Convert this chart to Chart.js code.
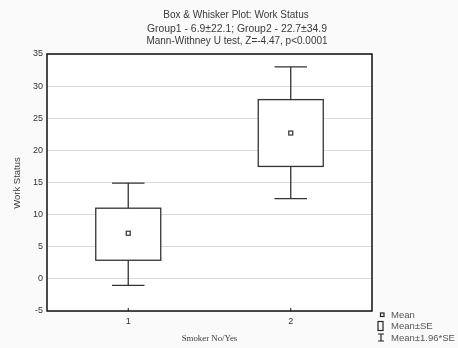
<!DOCTYPE html>
<html><head><meta charset="utf-8">
<script src="https://cdn.jsdelivr.net/npm/chart.js@4/dist/chart.umd.min.js"></script>
<style>html,body{margin:0;padding:0;background:#fafafa;}#c{display:block;}</style>
</head><body>
<canvas id="c" width="458" height="348"></canvas>
<script>
const categories = [1, 2];
const categoryLabels = ["1", "2"];
const means = [7.1, 22.7];
const seLow = [2.9, 17.5];
const seHigh = [11.0, 27.9];
const ciLow = [-1.0, 12.5];
const ciHigh = [14.9, 33.0];
const yTicks = [-5, 0, 5, 10, 15, 20, 25, 30, 35];
const titleLines = ["Box & Whisker Plot: Work Status", "Group1 - 6.9\u00b122.1; Group2 - 22.7\u00b134.9", "Mann-Withney U test, Z=-4.47, p<0.0001"];
const legendLabels = ["Mean", "Mean\u00b1SE", "Mean\u00b11.96*SE"];

const ink = '#333';
const sans = '"Liberation Sans", Arial, sans-serif';
const boxPlugin = {
  id: 'boxes',
  beforeDraw(chart) {
    const ctx = chart.ctx, a = chart.chartArea;
    ctx.save();
    ctx.fillStyle = '#fafafa';
    ctx.fillRect(0, 0, chart.width, chart.height);
    ctx.fillStyle = '#fff';
    ctx.fillRect(a.left, a.top, a.right - a.left, a.bottom - a.top);
    ctx.restore();
  },
  afterDatasetsDraw(chart) {
    const ctx = chart.ctx, x = chart.scales.x, y = chart.scales.y, a = chart.chartArea;
    ctx.save();
    ctx.strokeStyle = ink; ctx.lineWidth = 1.3;
    categories.forEach((c, i) => {
      const cx = x.getPixelForValue(c);
      const bw = (x.getPixelForValue(c + 0.2) - x.getPixelForValue(c - 0.2));
      const cw = bw / 2;
      const yt = y.getPixelForValue(seHigh[i]), yb = y.getPixelForValue(seLow[i]);
      const wt = y.getPixelForValue(ciHigh[i]), wb = y.getPixelForValue(ciLow[i]);
      ctx.fillStyle = '#fff';
      ctx.fillRect(cx - bw / 2, yt, bw, yb - yt);
      ctx.strokeRect(cx - bw / 2, yt, bw, yb - yt);
      ctx.beginPath();
      ctx.moveTo(cx, yt); ctx.lineTo(cx, wt);
      ctx.moveTo(cx - cw / 2, wt); ctx.lineTo(cx + cw / 2, wt);
      ctx.moveTo(cx, yb); ctx.lineTo(cx, wb);
      ctx.moveTo(cx - cw / 2, wb); ctx.lineTo(cx + cw / 2, wb);
      ctx.stroke();
      const my = y.getPixelForValue(means[i]);
      ctx.lineWidth = 1.2;
      ctx.strokeRect(cx - 2, my - 2, 4, 4);
      ctx.lineWidth = 1.3;
    });
    // frame
    ctx.strokeStyle = '#111'; ctx.lineWidth = 1.5;
    ctx.strokeRect(a.left, a.top, a.right - a.left, a.bottom - a.top);
    // x tick marks
    ctx.lineWidth = 1;
    categories.forEach(c => {
      const px = x.getPixelForValue(c);
      ctx.beginPath(); ctx.moveTo(px, a.bottom); ctx.lineTo(px, a.bottom - 3); ctx.stroke();
    });
    // titles
    ctx.fillStyle = '#3a3a3a';
    ctx.textAlign = 'center'; ctx.textBaseline = 'middle';
    ctx.font = '10px ' + sans;
    ctx.fillText(titleLines[0], 236, 15);
    ctx.font = '10.4px ' + sans;
    ctx.fillText(titleLines[1], 237, 29);
    ctx.font = '10px ' + sans;
    ctx.fillText(titleLines[2], 237, 41);
    // axis titles
    ctx.font = '8.8px "Liberation Serif", "Times New Roman", serif';
    ctx.fillText("Smoker No/Yes", (a.left + a.right) / 2, 339);
    ctx.save();
    ctx.translate(17, 183); ctx.rotate(-Math.PI / 2);
    ctx.font = '9.5px ' + sans;
    ctx.fillText("Work Status", 0, 0);
    ctx.restore();
    // legend
    ctx.strokeStyle = '#222'; ctx.lineWidth = 1.2;
    ctx.strokeRect(380.5, 313, 3.5, 3.5);
    ctx.strokeRect(378, 321.5, 5, 9);
    ctx.beginPath();
    ctx.moveTo(378, 334); ctx.lineTo(384, 334);
    ctx.moveTo(381, 334); ctx.lineTo(381, 341);
    ctx.moveTo(378, 341); ctx.lineTo(384, 341);
    ctx.stroke();
    ctx.fillStyle = '#555'; ctx.textAlign = 'left';
    ctx.font = '9.5px ' + sans;
    ctx.fillText(legendLabels[0], 391, 315.5);
    ctx.fillText(legendLabels[1], 391, 326.5);
    ctx.fillText(legendLabels[2], 391, 338);
    ctx.restore();
  }
};

new Chart(document.getElementById('c'), {
  type: 'scatter',
  data: { datasets: [{ data: categories.map((c, i) => ({ x: c, y: means[i] })), pointRadius: 0, showLine: false }] },
  options: {
    responsive: false, animation: false,
    layout: { padding: { left: 0, top: 54, right: 86, bottom: 0 } },
    plugins: { legend: { display: false }, tooltip: { enabled: false } },
    scales: {
      x: {
        type: 'linear', min: 0.5, max: 2.5,
        afterBuildTicks: s => { s.ticks = categories.map(v => ({ value: v })); },
        afterFit: s => { s.height = 37; },
        grid: { display: false, drawTicks: false },
        border: { display: false },
        ticks: { padding: 5, color: '#333', font: { size: 9, family: sans },
          callback: (v) => categoryLabels[categories.indexOf(v)] ?? '' }
      },
      y: {
        min: -5, max: 35,
        afterBuildTicks: s => { s.ticks = yTicks.map(v => ({ value: v })); },
        afterFit: s => { s.width = 47; },
        grid: { color: '#dcdcdc', lineWidth: 1, drawTicks: false },
        border: { display: false },
        ticks: { padding: 4, color: '#333', font: { size: 9, family: sans } }
      }
    }
  },
  plugins: [boxPlugin]
});
</script>
</body></html>
